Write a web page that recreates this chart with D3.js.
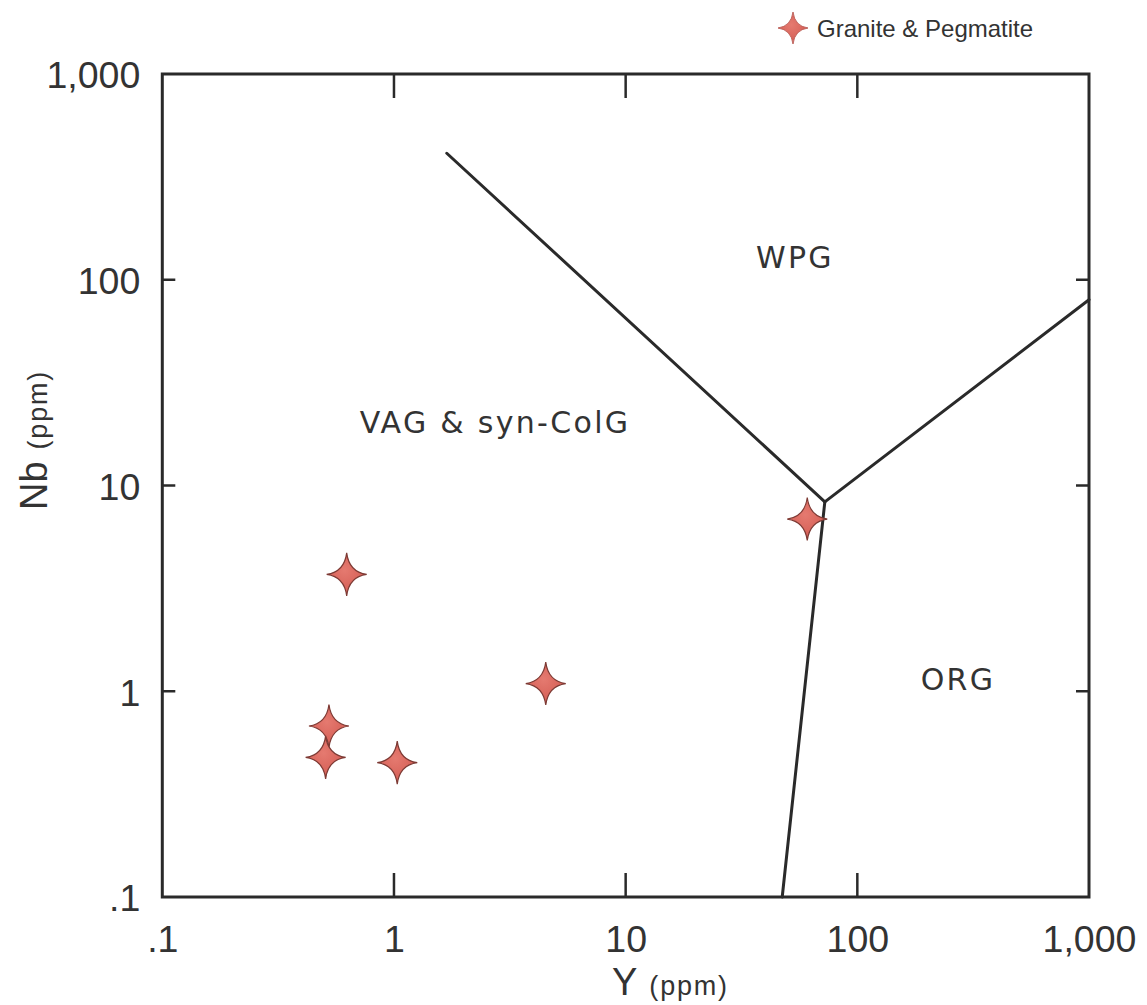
<!DOCTYPE html>
<html>
<head>
<meta charset="utf-8">
<script src="https://cdn.jsdelivr.net/npm/d3@7"></script>
<style>
  html, body { margin: 0; padding: 0; background: #fff; }
  svg { display: block; }
</style>
</head>
<body>
<svg id="chart" width="1147" height="1005"></svg>
<script>
// Y vs Nb discrimination diagram for granites (log-log)
const sampleY  = [0.625, 4.52, 0.524, 0.507, 1.033, 60.8];
const sampleNb = [3.70, 1.09, 0.678, 0.477, 0.450, 6.87];
const seriesName = "Granite & Pegmatite";

// Field boundaries (Y, Nb in ppm)
const boundaryWPG = [[1.69, 412], [72.4, 8.33]];
const boundaryORG = [[72.4, 8.33], [1000, 80]];
const boundaryVAG = [[72.4, 8.33], [47.4, 0.1]];

const fieldNames = ["WPG", "VAG & syn-ColG", "ORG"];
const fieldY  = [53.8, 2.73, 272];
const fieldNb = [114, 18, 1.01];

const tickValues = [0.1, 1, 10, 100, 1000];
const tickText   = [".1", "1", "10", "100", "1,000"];

const svg = d3.select("#chart");
const plotLeft = 162.3, plotRight = 1089, plotTop = 74, plotBottom = 897;

const x = d3.scaleLog().domain([0.1, 1000]).range([plotLeft, plotRight]);
const y = d3.scaleLog().domain([0.1, 1000]).range([plotBottom, plotTop]);

const ink = "#2a2a2a";
const textInk = "#333";

// Tick labels
const fmt = v => tickText[tickValues.indexOf(v)];
const axisBottom = d3.axisBottom(x).tickValues(tickValues).tickFormat(fmt).tickSize(0).tickPadding(41);
const axisLeft = d3.axisLeft(y).tickValues(tickValues).tickFormat(fmt).tickSize(0).tickPadding(22);

const gx = svg.append("g").attr("transform", `translate(0,${plotBottom})`).call(axisBottom);
gx.select(".domain").remove();
gx.selectAll("text").attr("font-family", "Liberation Sans, Arial, sans-serif")
  .attr("font-size", 37.5).attr("fill", textInk).attr("dy", "0.36em");

const gy = svg.append("g").attr("transform", `translate(${plotLeft},0)`).call(axisLeft);
gy.select(".domain").remove();
gy.selectAll("text").attr("font-family", "Liberation Sans, Arial, sans-serif")
  .attr("font-size", 37.5).attr("fill", textInk).attr("dy", "0.37em");

// Inner ticks on all four sides
const inner = [1, 10, 100];
const tickG = svg.append("g").attr("stroke", ink).attr("stroke-width", 2.5);
inner.forEach(v => {
  tickG.append("line").attr("x1", x(v)).attr("x2", x(v)).attr("y1", plotBottom).attr("y2", plotBottom - 24);
  tickG.append("line").attr("x1", x(v)).attr("x2", x(v)).attr("y1", plotTop).attr("y2", plotTop + 24);
  tickG.append("line").attr("y1", y(v)).attr("y2", y(v)).attr("x1", plotLeft).attr("x2", plotLeft + 13);
  tickG.append("line").attr("y1", y(v)).attr("y2", y(v)).attr("x1", plotRight).attr("x2", plotRight - 13);
});

// Frame
svg.append("rect").attr("x", plotLeft).attr("y", plotTop)
  .attr("width", plotRight - plotLeft).attr("height", plotBottom - plotTop)
  .attr("fill", "none").attr("stroke", ink).attr("stroke-width", 3);

// Field boundaries
const line = d3.line().x(d => x(d[0])).y(d => y(d[1]));
[boundaryWPG, boundaryORG, boundaryVAG].forEach(b => {
  svg.append("path").attr("d", line(b)).attr("fill", "none")
    .attr("stroke", ink).attr("stroke-width", 3).attr("stroke-linecap", "round");
});

// Field labels
svg.append("g").selectAll("text").data(fieldNames).join("text")
  .attr("x", (d, i) => x(fieldY[i])).attr("y", (d, i) => y(fieldNb[i]))
  .attr("text-anchor", "middle")
  .attr("font-family", "DejaVu Sans, sans-serif").attr("font-size", 30)
  .attr("letter-spacing", 2.3).attr("fill", textInk)
  .text(d => d);

// Four-pointed star marker
function star(w, h) {
  const c = 0.12 * Math.min(w, h);
  const p = d3.path();
  p.moveTo(0, -h);
  p.quadraticCurveTo(c, -c, w, 0);
  p.quadraticCurveTo(c, c, 0, h);
  p.quadraticCurveTo(-c, c, -w, 0);
  p.quadraticCurveTo(-c, -c, 0, -h);
  p.closePath();
  return p.toString();
}

const defs = svg.append("defs");
const grad = defs.append("radialGradient").attr("id", "starFill")
  .attr("cx", "45%").attr("cy", "40%").attr("r", "60%");
grad.append("stop").attr("offset", "0%").attr("stop-color", "#e57a70");
grad.append("stop").attr("offset", "100%").attr("stop-color", "#d35c53");

const samples = sampleY.map((v, i) => [v, sampleNb[i]]);
svg.append("g").selectAll("path").data(samples).join("path")
  .attr("transform", d => `translate(${x(d[0])},${y(d[1])})`)
  .attr("d", star(20, 21.5))
  .attr("fill", "url(#starFill)").attr("stroke", "#7d3a34").attr("stroke-width", 1.2);

// Legend
const legend = svg.append("g").attr("transform", "translate(793,28)");
legend.append("path").attr("d", star(15, 16))
  .attr("fill", "url(#starFill)").attr("stroke", "#b24d45").attr("stroke-width", 0.8);
legend.append("text").attr("x", 24).attr("y", 8.5)
  .attr("font-family", "Liberation Sans, Arial, sans-serif").attr("font-size", 24)
  .attr("fill", textInk).text(seriesName);

// Axis titles
const xt = svg.append("text").attr("x", 612).attr("y", 995)
  .attr("font-family", "Liberation Sans, Arial, sans-serif").attr("fill", textInk);
xt.append("tspan").attr("font-size", 38).text("Y");
xt.append("tspan").attr("font-size", 27).attr("dx", 12).attr("letter-spacing", 1.8).text("(ppm)");

const yt = svg.append("text").attr("transform", "translate(47,510) rotate(-90)")
  .attr("font-family", "Liberation Sans, Arial, sans-serif").attr("fill", textInk);
yt.append("tspan").attr("font-size", 38).text("Nb");
yt.append("tspan").attr("font-size", 27).attr("dx", 12).attr("letter-spacing", 1.8).text("(ppm)");
</script>
</body>
</html>
